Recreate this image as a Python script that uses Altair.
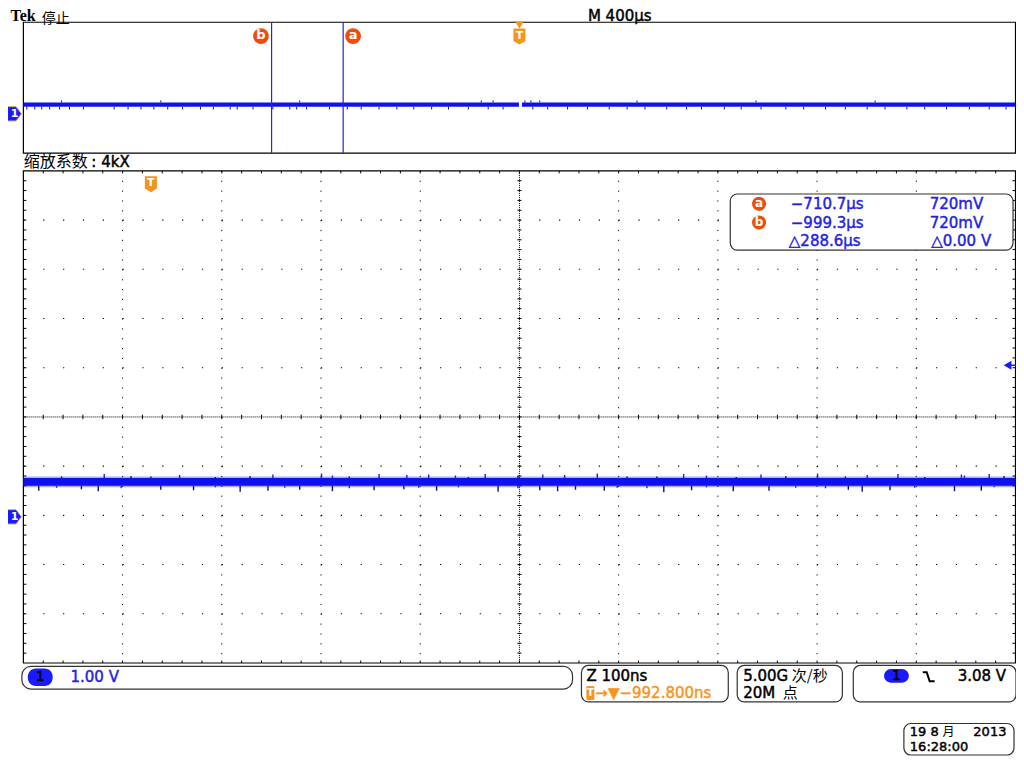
import altair as alt
import pandas as pd

# ------------------------------------------------------------------
# Values read from the oscilloscope screen
# ------------------------------------------------------------------
OV_TIME_PER_DIV_US = 400          # "M 400µs"
ZOOM_TIME_PER_DIV_NS = 100        # "Z 100ns"
CH1_VOLT_PER_DIV = 1.00           # "1.00 V"
TRIG_LEVEL_V = 3.08
CURSOR_NAMES = ["a", "b"]
CURSOR_T_US = [-710.7, -999.3]
CURSOR_V = [0.72, 0.72]

# overview trace (µs relative to trigger) – band of noise, one short gap
OV_SEG_START_US = [-2000, 10]
OV_SEG_END_US = [-2, 2000]
OV_BAND_V = [0.53, 0.87]
OV_GLITCH_DN_US = [-1986, -1954, -1926, -1894, -1854, -1814, -1758, -1634, -1578, -1526,
                   -1474, -1418, -1358, -1286, -1234, -1166, -1138, -1074, -994, -926,
                   -898, -858, -766, -694, -638, -566, -494, -426, -354, -286, -206,
                   -126, -66, 54, 114, 194, 274, 362, 434, 506, 594, 674, 734, 826,
                   894, 974, 1074, 1146, 1234, 1314, 1402, 1474, 1562, 1634, 1722,
                   1814, 1894, 1962]
OV_GLITCH_UP_US = [-1846, -1446, -886, -154, -106, 22, 46, 82, 474, 954, 1434]

# zoomed trace (ns relative to trigger)
MAIN_T_RANGE_NS = [-128.5, 871.5]
MAIN_BAND_V = [0.63, 0.79]
MAIN_FUZZ_V = [0.60, 0.82]
SPIKE_UP_T_NS = [-47, 29, 123, 172, 183, 230, 258, 280, 307, 337, 395, 417, 450, 537,
                 560, 615, 672, 722, 753, 817, 820, 845]
SPIKE_UP_V = [0.87, 0.85, 0.86, 0.88, 0.84, 0.87, 0.85, 0.86, 0.84, 0.87, 0.86, 0.85,
              0.88, 0.87, 0.84, 0.86, 0.88, 0.85, 0.87, 0.86, 0.84, 0.87]
SPIKE_DN_T_NS = [-113, -70, -53, 10, 43, 90, 118, 150, 183, 225, 255, 288, 350, 392,
                 410, 428, 457, 517, 545, 587, 623, 703, 717, 745, 810, 837]
SPIKE_DN_V = [0.53, 0.56, 0.52, 0.55, 0.54, 0.51, 0.53, 0.55, 0.52, 0.54, 0.56, 0.53,
              0.51, 0.54, 0.52, 0.55, 0.53, 0.50, 0.54, 0.52, 0.53, 0.55, 0.51, 0.54,
              0.52, 0.53]
SMALL_UP_T_NS = [-90, -20, 0, 65, 100, 200, 320, 370, 480, 510, 590, 640, 700, 780, 860]
SMALL_UP_V = [0.82, 0.83, 0.82, 0.81, 0.83, 0.82, 0.81, 0.83, 0.82, 0.82, 0.81, 0.83,
              0.82, 0.81, 0.83]
SMALL_DN_T_NS = [-95, -30, 65, 135, 200, 270, 310, 370, 470, 500, 560, 650, 680, 770, 850]
SMALL_DN_V = [0.59, 0.58, 0.60, 0.59, 0.58, 0.59, 0.60, 0.58, 0.59, 0.58, 0.60, 0.59,
              0.58, 0.59, 0.60]

# text on screen
HEADER_BRAND = "Tek"
HEADER_STATE = "停止"
HEADER_TIMEBASE = "M 400μs"
ZOOM_LABEL_CJK = "缩放系数"
ZOOM_LABEL_VAL = ": 4kX"
CH1_LABEL = "1.00 V"
ZOOM_TB = "Z 100ns"
ZOOM_POS = "→▼−992.800ns"
RATE_NUM, RATE_UNIT = "5.00G", "次/秒"
REC_NUM, REC_UNIT = "20M", "点"
TRIG_LABEL = "3.08 V"
DATE_DAY, DATE_MONTH, DATE_YEAR = "19 8", "月", "2013"
TIME_STR = "16:28:00"

# ------------------------------------------------------------------
# Screen coordinate system: graticule divisions (main window 10 x 10)
# ------------------------------------------------------------------
def main_x(t_ns):
    return (t_ns + 128.5) / ZOOM_TIME_PER_DIV_NS


def main_y(v):
    return v / CH1_VOLT_PER_DIV - 2.03


def ov_x(t_us):
    return 5 + t_us / OV_TIME_PER_DIV_US


def ov_y(v):
    return 6.16 + 0.266 * v


XS = alt.Scale(domain=[-0.155, 10.005], nice=False, zero=False)
YS = alt.Scale(domain=[-6.89, 8.31], nice=False, zero=False)

BLUE_TXT = "#1f1fe5"
TRACE = "#1010ee"
NAVY = "#10106a"
ORANGE = "#f7941d"
RED_OR = "#f04c0c"
BOX = "#333333"
LATIN = "DejaVu Sans"
CJK = "Noto Sans CJK SC"
FS = 15


def pos(ch, x2=False, y2=False):
    enc = dict(x=alt.X("x:Q", scale=XS, axis=None), y=alt.Y("y:Q", scale=YS, axis=None))
    if x2:
        enc["x2"] = alt.X2("x2:Q")
    if y2:
        enc["y2"] = alt.Y2("y2:Q")
    return ch.encode(**enc)


layers = []

# ---------------- graticule ----------------
vdiv = pd.DataFrame([dict(x=k, x2=k, y=5, y2=-5) for k in range(1, 10) if k != 5])
hdiv = pd.DataFrame([dict(x=0, x2=10, y=k, y2=k) for k in (-4, -3, -2, -1, 1, 2, 3, 4)])
cen = pd.DataFrame([dict(x=0, x2=10, y=0, y2=0), dict(x=5, x2=5, y=5, y2=-5)])
ticks = []
for i in range(1, 50):
    xx = round(i * 0.2, 3)
    ticks.append(dict(x=xx, x2=xx, y=-0.045, y2=0.045))
    ticks.append(dict(x=xx, x2=xx, y=-5, y2=-4.95))
    ticks.append(dict(x=xx, x2=xx, y=5, y2=4.95))
    yy = round(-5 + i * 0.2, 3)
    ticks.append(dict(x=4.98, x2=5.02, y=yy, y2=yy))
    ticks.append(dict(x=0, x2=0.03, y=yy, y2=yy))
    ticks.append(dict(x=9.97, x2=10, y=yy, y2=yy))
ticks = pd.DataFrame(ticks)

layers.append(pos(alt.Chart(vdiv).mark_rule(color="#000", strokeWidth=1, strokeDash=[1.2, 8.64]), True, True))
layers.append(pos(alt.Chart(hdiv).mark_rule(color="#000", strokeWidth=1.1, strokeDash=[1.2, 18.64]), True, True))
layers.append(pos(alt.Chart(cen).mark_rule(color="#000", strokeWidth=1, strokeDash=[1, 1]), True, True))
layers.append(pos(alt.Chart(ticks).mark_rule(color="#000", strokeWidth=1), True, True))

# ---------------- frames ----------------
frames = pd.DataFrame([dict(x=0, x2=10, y=ov_y(0) + 1.86, y2=ov_y(0) - 0.8),
                       dict(x=0, x2=10, y=5, y2=-5)])
layers.append(pos(alt.Chart(frames).mark_rect(filled=False, stroke="#000", strokeWidth=1.2), True, True))

# ---------------- overview trace ----------------
ov_band = pd.DataFrame(dict(x=[ov_x(t) for t in OV_SEG_START_US], x2=[ov_x(t) for t in OV_SEG_END_US],
                            y=[ov_y(OV_BAND_V[0])] * 2, y2=[ov_y(OV_BAND_V[1])] * 2))
layers.append(pos(alt.Chart(ov_band).mark_rect(color=TRACE), True, True))
ov_dn = pd.DataFrame(dict(x=[ov_x(t) for t in OV_GLITCH_DN_US],
                          y=[ov_y(OV_BAND_V[0])] * len(OV_GLITCH_DN_US),
                          y2=[ov_y(OV_BAND_V[0] - 0.2)] * len(OV_GLITCH_DN_US)))
layers.append(pos(alt.Chart(ov_dn).mark_rule(color=NAVY, strokeWidth=1), False, True))
ov_up = pd.DataFrame(dict(x=[ov_x(t) for t in OV_GLITCH_UP_US],
                          y=[ov_y(OV_BAND_V[1])] * len(OV_GLITCH_UP_US),
                          y2=[ov_y(OV_BAND_V[1] + 0.15)] * len(OV_GLITCH_UP_US)))
layers.append(pos(alt.Chart(ov_up).mark_rule(color=NAVY, strokeWidth=1), False, True))

# cursors
cur = pd.DataFrame(dict(x=[ov_x(t) for t in CURSOR_T_US], y=[ov_y(0) + 1.86] * 2, y2=[ov_y(0) - 0.8] * 2))
layers.append(pos(alt.Chart(cur).mark_rule(color="#2424d8", strokeWidth=1.2), False, True))
cur_badge = pd.DataFrame(dict(x=[ov_x(CURSOR_T_US[0]) + 0.10, ov_x(CURSOR_T_US[1]) - 0.107],
                              y=[7.74, 7.74], t=CURSOR_NAMES))
layers.append(pos(alt.Chart(cur_badge).mark_point(shape="circle", filled=True, size=250, color=RED_OR, opacity=1)))
layers.append(pos(alt.Chart(cur_badge).mark_text(color="white", font=LATIN, fontWeight="bold", fontSize=13, baseline="middle", dy=-1)).encode(text="t:N"))

# ---------------- main trace ----------------
fz = pd.DataFrame(dict(x=[main_x(MAIN_T_RANGE_NS[0])], x2=[main_x(MAIN_T_RANGE_NS[1])],
                       y=[main_y(MAIN_FUZZ_V[0])], y2=[main_y(MAIN_FUZZ_V[1])]))
layers.append(pos(alt.Chart(fz).mark_rect(color=TRACE, opacity=0.35), True, True))
mb = pd.DataFrame(dict(x=[main_x(MAIN_T_RANGE_NS[0])], x2=[main_x(MAIN_T_RANGE_NS[1])],
                       y=[main_y(MAIN_BAND_V[0])], y2=[main_y(MAIN_BAND_V[1])]))
layers.append(pos(alt.Chart(mb).mark_rect(color=TRACE), True, True))


def spikes(ts, vs, base):
    return pd.DataFrame(dict(x=[main_x(t) for t in ts], y=[main_y(base)] * len(ts), y2=[main_y(v) for v in vs]))


layers.append(pos(alt.Chart(spikes(SPIKE_UP_T_NS, SPIKE_UP_V, MAIN_BAND_V[1])).mark_rule(color="#1e1ee0", strokeWidth=1.4), False, True))
layers.append(pos(alt.Chart(spikes(SMALL_UP_T_NS, SMALL_UP_V, MAIN_BAND_V[1])).mark_rule(color=NAVY, strokeWidth=1.4), False, True))
layers.append(pos(alt.Chart(spikes(SPIKE_DN_T_NS, SPIKE_DN_V, MAIN_BAND_V[0])).mark_rule(color=NAVY, strokeWidth=1.4), False, True))
layers.append(pos(alt.Chart(spikes(SMALL_DN_T_NS, SMALL_DN_V, MAIN_BAND_V[0])).mark_rule(color="#2020e8", strokeWidth=1.4), False, True))

# ---------------- markers ----------------
TAG = "M-1,-0.8L0.4,-0.8L1,0L0.4,0.8L-1,0.8Z"
SHIELD = "M-0.75,-1L0.75,-1L0.75,0.55L0,1L-0.75,0.55Z"
ch_tags = pd.DataFrame(dict(x=[-0.11, -0.11], y=[ov_y(0), main_y(0)], t=["1", "1"]))
layers.append(pos(alt.Chart(ch_tags).mark_point(shape=TAG, filled=True, size=324, color="#1a1aff", stroke="#c8b870", strokeWidth=1, opacity=1)))
layers.append(pos(alt.Chart(ch_tags).mark_text(color="white", font=LATIN, fontWeight="bold", fontSize=11, baseline="middle", dx=2)).encode(text="t:N"))

tmarks = pd.DataFrame(dict(x=[ov_x(0), main_x(0)], y=[7.73, 4.73], t=["T", "T"]))
layers.append(pos(alt.Chart(tmarks).mark_point(shape=SHIELD, filled=True, size=256, color=ORANGE, opacity=1)))
layers.append(pos(alt.Chart(tmarks).mark_text(color="white", font=LATIN, fontWeight="bold", fontSize=11, baseline="middle", dy=-1)).encode(text="t:N"))
ttop = pd.DataFrame(dict(x=[ov_x(0)], y=[7.96]))
layers.append(pos(alt.Chart(ttop).mark_point(shape="triangle-down", filled=True, size=70, color=ORANGE, opacity=1)))

trig = pd.DataFrame(dict(x=[9.92], x2=[10.0], y=[main_y(TRIG_LEVEL_V)]))
layers.append(pos(alt.Chart(trig).mark_rule(color="#1a1aff", strokeWidth=1.5), True, False))
layers.append(pos(alt.Chart(trig).mark_point(shape="triangle-left", filled=True, size=80, color="#1a1aff", opacity=1)))

# ---------------- boxes ----------------
boxes = pd.DataFrame([
    dict(x=7.125, x2=9.975, y=3.39, y2=4.53),
    dict(x=5.625, x2=7.105, y=-5.79, y2=-5.05),
    dict(x=7.195, x2=8.255, y=-5.79, y2=-5.05),
    dict(x=8.365, x2=10.005, y=-5.79, y2=-5.05),
    dict(x=8.875, x2=9.985, y=-6.87, y2=-6.23),
])
layers.append(pos(alt.Chart(boxes).mark_rect(fill="white", stroke=BOX, strokeWidth=1.2, cornerRadius=7), True, True))
ch1box = pd.DataFrame([dict(x=-0.015, x2=5.535, y=-5.53, y2=-5.07)])
layers.append(pos(alt.Chart(ch1box).mark_rect(fill="white", stroke=BOX, strokeWidth=1.2, cornerRadius=9), True, True))
ell = pd.DataFrame([dict(x=0.045, x2=0.295, y=-5.47, y2=-5.11), dict(x=8.675, x2=8.925, y=-5.40, y2=-5.12)])
layers.append(pos(alt.Chart(ell).mark_rect(color="#1a1aff", cornerRadius=8), True, True))
tbadge = pd.DataFrame([dict(x=5.675, x2=5.755, y=-5.75, y2=-5.47)])
layers.append(pos(alt.Chart(tbadge).mark_rect(color=ORANGE), True, True))

edge = pd.DataFrame(dict(x=[9.065, 9.105, 9.135, 9.185], y=[-5.19, -5.19, -5.37, -5.37], o=[0, 1, 2, 3]))
layers.append(pos(alt.Chart(edge).mark_line(color="#000", strokeWidth=2)).encode(order="o:Q"))

# readout badges
rb = pd.DataFrame(dict(x=[7.415, 7.415], y=[4.33, 3.95], t=CURSOR_NAMES))
layers.append(pos(alt.Chart(rb).mark_point(shape="circle", filled=True, size=200, color=RED_OR, opacity=1)))
layers.append(pos(alt.Chart(rb).mark_text(color="white", font=LATIN, fontWeight="bold", fontSize=12, baseline="middle", dy=-1)).encode(text="t:N"))

# ---------------- texts ----------------
def txt(rows, color="#000", embolden=True, **kw):
    df = pd.DataFrame(rows, columns=["x", "y", "t"])
    base = dict(baseline="middle", color=color)
    if embolden:
        base.update(stroke=color, strokeWidth=0.45)
    base.update(kw)
    return pos(alt.Chart(df).mark_text(**base)).encode(text="t:N")


def fmt_us(v):
    return ("−" if v < 0 else "") + f"{abs(v):.1f}μs"


def fmt_mv(v):
    return f"{round(v * 1000):d}mV"


dt = CURSOR_T_US[0] - CURSOR_T_US[1]
dv = CURSOR_V[0] - CURSOR_V[1]

layers.append(txt([(-0.13, 8.14, HEADER_BRAND)], embolden=False, font="Liberation Serif", fontWeight="bold", fontSize=16, align="left"))
layers.append(txt([(0.185, 8.09, HEADER_STATE)], embolden=False, font=CJK, fontSize=14, align="left"))
layers.append(txt([(0.005, 5.19, ZOOM_LABEL_CJK)], embolden=False, font=CJK, fontSize=16, align="left"))
layers.append(txt([(7.745, -5.27, RATE_UNIT), (7.655, -5.61, REC_UNIT)],
                  embolden=False, font=CJK, fontSize=15, align="left"))
layers.append(txt([(9.265, -6.40, DATE_MONTH)], embolden=False, font=CJK, fontSize=12, align="left"))
layers.append(txt([(5.69, 8.14, HEADER_TIMEBASE), (0.685, 5.19, ZOOM_LABEL_VAL), (5.675, -5.27, ZOOM_TB),
                   (7.255, -5.27, RATE_NUM), (7.255, -5.61, REC_NUM)],
                  font=LATIN, fontSize=FS, align="left"))
layers.append(txt([(8.935, -6.40, DATE_DAY), (9.575, -6.40, DATE_YEAR), (8.935, -6.71, TIME_STR)],
                  font=LATIN, fontSize=13, align="left"))
layers.append(txt([(9.905, -5.27, TRIG_LABEL)], font=LATIN, fontSize=FS, align="right"))
layers.append(txt([(7.735, 4.33, fmt_us(CURSOR_T_US[0])), (7.735, 3.95, fmt_us(CURSOR_T_US[1])),
                   (7.715, 3.58, "△" + f"{dt:.1f}μs"), (0.475, -5.29, CH1_LABEL)],
                  color=BLUE_TXT, font=LATIN, fontSize=FS, align="left"))
layers.append(txt([(9.675, 4.33, fmt_mv(CURSOR_V[0])), (9.675, 3.95, fmt_mv(CURSOR_V[1])),
                   (9.755, 3.58, "△" + f"{dv:.2f} V")],
                  color=BLUE_TXT, font=LATIN, fontSize=FS, align="right"))
layers.append(txt([(5.765, -5.61, ZOOM_POS)], color=ORANGE, font=LATIN, fontSize=FS, align="left"))
layers.append(txt([(0.17, -5.29, "1"), (8.80, -5.26, "1")], font=LATIN, fontSize=14, align="center"))
layers.append(txt([(5.715, -5.61, "T")], color="white", embolden=False, font=LATIN, fontWeight="bold", fontSize=10, align="center"))

chart = alt.layer(*layers).properties(
    width=1008, height=748, autosize="none", padding=0, background="white"
).configure_view(strokeWidth=0)

chart.save("out.html", embed_options={"renderer": "svg", "actions": False})
